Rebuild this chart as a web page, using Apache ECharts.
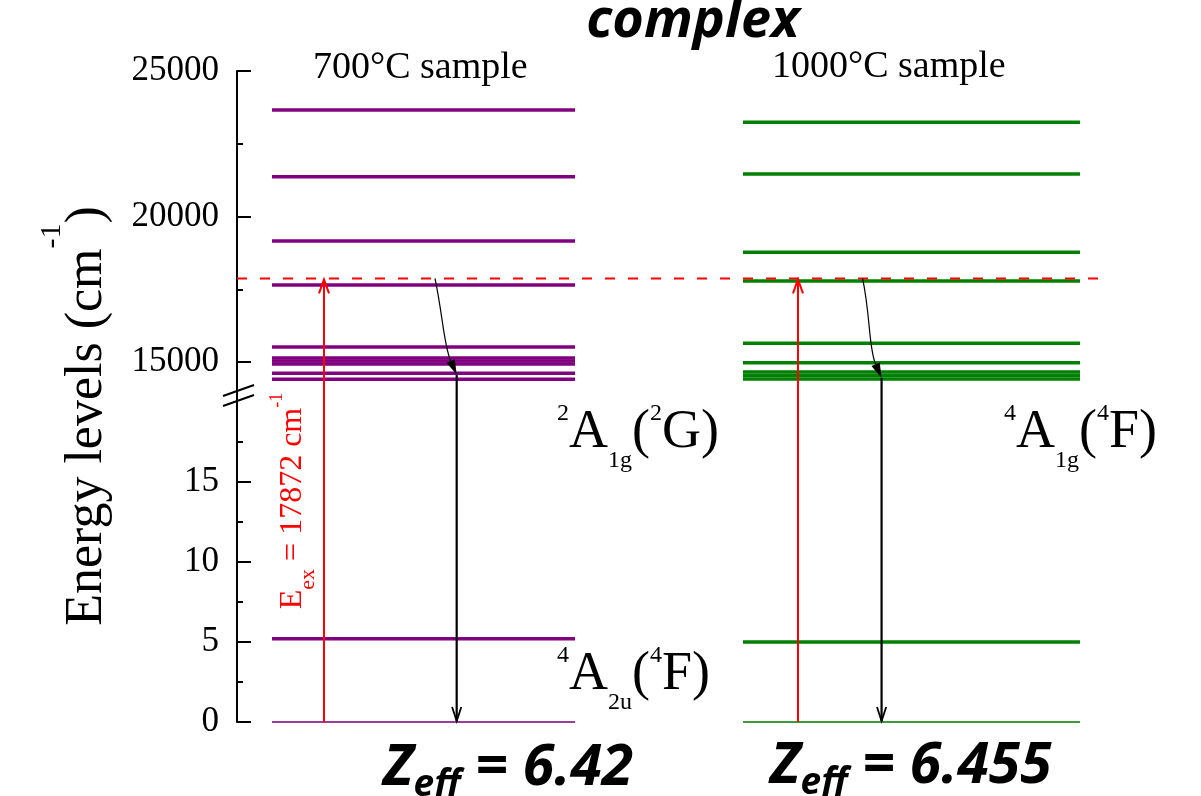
<!DOCTYPE html>
<html>
<head>
<meta charset="utf-8">
<script src="https://cdn.jsdelivr.net/npm/echarts@6/dist/echarts.min.js"></script>
<style>html,body{margin:0;padding:0;background:#fff}#c{width:1201px;height:796px}</style>
</head>
<body>
<div id="c"></div>
<script>
// ---------------- data ----------------
const samples = ['700°C sample', '1000°C sample'];
const upperLevels700 = [23660, 21370, 19160, 17650, 15520, 15140, 15035, 14930, 14610, 14405];
const upperLevels1000 = [23240, 21460, 18770, 17785, 15645, 14975, 14655, 14540, 14415];
const lowerLevels700 = [5.2, 0];
const lowerLevels1000 = [5.0, 0];
const excitationEnergy = 17872;
const relaxationEnd = [14560, 14450];
const zeffValues = ['6.42', '6.455'];
const upperMajorTicks = [15000, 20000, 25000];
const upperMinorTicks = [17500, 22500];
const lowerMajorTicks = [0, 5, 10, 15];
const lowerMinorTicks = [2.5, 7.5, 12.5, 17.5];

// ---------------- layout / style ----------------
const SERIF = 'Liberation Serif';
const SANS = 'Open Sans';
const COLORS = ['#800080', '#008000'];
const GROUND_COLORS = ['#9a3d9a', '#3d9a3d'];
const LAY = {
  left: 237, right: 97,
  upper: { top: 71, height: 321, min: 13970, max: 25000 },
  lower: { top: 392, height: 330, min: 0, max: 20.625 },
  xMin: -0.3822, xMax: 1.3945,
  halfWidth: [0.3105, 0.3453],
  redDx: [-0.2039, -0.2326],
  blackDx: [0.068, -0.0613],
  curveStartPx: [-21.7, -19]
};

const upperData = [];
upperLevels700.forEach(v => upperData.push([0, v]));
upperLevels1000.forEach(v => upperData.push([1, v]));
const lowerData = [];
lowerLevels700.forEach(v => lowerData.push([0, v]));
lowerLevels1000.forEach(v => lowerData.push([1, v]));

function renderLevel(params, api) {
  const s = api.value(0), v = api.value(1);
  const c = api.coord([s, v]);
  const hw = api.size([LAY.halfWidth[s], 0])[0];
  const ground = v === 0;
  return {
    type: 'line',
    shape: { x1: c[0] - hw, y1: c[1], x2: c[0] + hw, y2: c[1] },
    style: { stroke: ground ? GROUND_COLORS[s] : COLORS[s], lineWidth: ground ? 2 : 3.5 }
  };
}

function renderDashed(params, api) {
  const c = api.coord([0, api.value(1)]);
  const cs = params.coordSys;
  return {
    type: 'line',
    shape: { x1: cs.x, y1: c[1], x2: cs.x + cs.width, y2: c[1] },
    style: { stroke: '#ff0000', lineWidth: 2, lineDash: [10, 13] }
  };
}

function renderExcUpper(params, api) {
  const s = api.value(0);
  const t = api.coord([s + LAY.redDx[s], api.value(1)]);
  const cs = params.coordSys;
  return {
    type: 'group',
    children: [
      { type: 'line', shape: { x1: t[0], y1: cs.y + cs.height, x2: t[0], y2: t[1] + 1 },
        style: { stroke: '#ff0000', lineWidth: 2 } },
      { type: 'polyline', shape: { points: [[t[0] - 5, t[1] + 15], [t[0], t[1] + 1], [t[0] + 5, t[1] + 15]] },
        style: { stroke: '#ff0000', lineWidth: 2, fill: null } }
    ]
  };
}

function renderExcLower(params, api) {
  const s = api.value(0);
  const b = api.coord([s + LAY.redDx[s], api.value(1)]);
  const cs = params.coordSys;
  return {
    type: 'line', shape: { x1: b[0], y1: cs.y, x2: b[0], y2: b[1] },
    style: { stroke: '#ff0000', lineWidth: 2 }
  };
}

function renderRelaxUpper(params, api) {
  const s = api.value(0);
  const x = s + LAY.blackDx[s];
  const tip = api.coord([x, api.value(1)]);
  const start = api.coord([x, excitationEnergy]);
  start[0] += LAY.curveStartPx[s];
  const cp1 = [start[0] + 8, start[1] + 38];
  const cp2 = [tip[0] - 13, tip[1] - 30];
  const ang = Math.atan2(tip[1] - cp2[1], tip[0] - cp2[0]);
  const len = 15, hw = 4.5;
  const bx = tip[0] - len * Math.cos(ang), by = tip[1] - len * Math.sin(ang);
  const px = -Math.sin(ang) * hw, py = Math.cos(ang) * hw;
  const cs = params.coordSys;
  return {
    type: 'group',
    children: [
      { type: 'bezierCurve',
        shape: { x1: start[0], y1: start[1], cpx1: cp1[0], cpy1: cp1[1], cpx2: cp2[0], cpy2: cp2[1], x2: bx, y2: by },
        style: { stroke: '#000', lineWidth: 1.2, fill: null } },
      { type: 'polygon', shape: { points: [[tip[0], tip[1]], [bx + px, by + py], [bx - px, by - py]] },
        style: { fill: '#000' } },
      { type: 'line', shape: { x1: tip[0], y1: tip[1], x2: tip[0], y2: cs.y + cs.height },
        style: { stroke: '#000', lineWidth: 2.2 } }
    ]
  };
}

function renderRelaxLower(params, api) {
  const s = api.value(0);
  const b = api.coord([s + LAY.blackDx[s], api.value(1)]);
  const cs = params.coordSys;
  return {
    type: 'group',
    children: [
      { type: 'line', shape: { x1: b[0], y1: cs.y, x2: b[0], y2: b[1] - 1 },
        style: { stroke: '#000', lineWidth: 2.2 } },
      { type: 'polyline', shape: { points: [[b[0] - 4.6, b[1] - 15], [b[0], b[1] - 1], [b[0] + 4.6, b[1] - 15]] },
        style: { stroke: '#000', lineWidth: 1.8, fill: null } }
    ]
  };
}

function mainAxis(grid, r, ticks) {
  return {
    gridIndex: grid, type: 'value', min: r.min, max: r.max, position: 'left',
    axisLine: { show: true, onZero: false, lineStyle: { color: '#000', width: 2 } },
    axisTick: { show: true, inside: true, length: 14, lineStyle: { color: '#000', width: 2 }, customValues: ticks },
    axisLabel: { show: true, customValues: ticks, margin: 18, fontSize: 35, fontFamily: SERIF, color: '#000',
      formatter: v => String(v) },
    splitLine: { show: false }
  };
}
function minorAxis(grid, r, ticks) {
  return {
    gridIndex: grid, type: 'value', min: r.min, max: r.max, position: 'left',
    axisLine: { show: false, onZero: false },
    axisTick: { show: true, inside: true, length: 6, lineStyle: { color: '#000', width: 2 }, customValues: ticks },
    axisLabel: { show: false },
    splitLine: { show: false }
  };
}

// main baseline sits ~58.5 px below the top of the text block
function serifRich(main, sup, sub) {
  return {
    m: { fontSize: main, fontFamily: SERIF, fill: '#000', lineHeight: 84, verticalAlign: 'middle' },
    sup: { fontSize: sup, fontFamily: SERIF, fill: '#000', height: 46, verticalAlign: 'top' },
    sub: { fontSize: sub, fontFamily: SERIF, fill: '#000', height: 28, verticalAlign: 'bottom' }
  };
}
const zeffRich = {
  m: { fontSize: 57, fontFamily: SANS, fontWeight: 'bold', fontStyle: 'italic', fill: '#000', lineHeight: 80, verticalAlign: 'middle' },
  sub: { fontSize: 37, fontFamily: SANS, fontWeight: 'bold', fontStyle: 'italic', fill: '#000', height: 48, verticalAlign: 'bottom' }
};

const graphics = [
  { type: 'text', x: 693, y: -8, style: { text: '{m|complex}', align: 'center', verticalAlign: 'top',
      rich: { m: { fontSize: 54, fontFamily: SANS, fontWeight: 'bold', fontStyle: 'italic', fill: '#000', lineHeight: 60, verticalAlign: 'middle' } } } },
  { type: 'text', x: 313, y: 48, style: { text: '{m|' + samples[0] + '}', align: 'left', verticalAlign: 'top',
      rich: { m: { fontSize: 38, fontFamily: SERIF, fill: '#000', lineHeight: 40, verticalAlign: 'middle' } } } },
  { type: 'text', x: 772, y: 47, style: { text: '{m|' + samples[1] + '}', align: 'left', verticalAlign: 'top',
      rich: { m: { fontSize: 38, fontFamily: SERIF, fill: '#000', lineHeight: 40, verticalAlign: 'middle' } } } },
  { type: 'text', x: 557, y: 391, style: { text: '{sup|2}{m|A}{sub|1g}{m|(}{sup|2}{m|G}{m|)}', align: 'left', verticalAlign: 'top', rich: serifRich(54, 24, 24) } },
  { type: 'text', x: 557, y: 633, style: { text: '{sup|4}{m|A}{sub|2u}{m|(}{sup|4}{m|F}{m|)}', align: 'left', verticalAlign: 'top', rich: serifRich(54, 24, 24) } },
  { type: 'text', x: 1004, y: 391, style: { text: '{sup|4}{m|A}{sub|1g}{m|(}{sup|4}{m|F}{m|)}', align: 'left', verticalAlign: 'top', rich: serifRich(54, 24, 24) } },
  { type: 'text', x: 383, y: 729, style: { text: '{m|Z}{sub|eff}{m| = ' + zeffValues[0] + '}', align: 'left', verticalAlign: 'top', rich: zeffRich } },
  { type: 'text', x: 770, y: 727, style: { text: '{m|Z}{sub|eff}{m| = ' + zeffValues[1] + '}', align: 'left', verticalAlign: 'top', rich: zeffRich } },
  { type: 'text', x: 87, y: 416, rotation: Math.PI / 2, style: { text: '{m|Energy levels (cm}{sup|-1}{m|)}', align: 'center', verticalAlign: 'middle',
      rich: {
        m: { fontSize: 52, fontFamily: SERIF, fill: '#000', lineHeight: 100, verticalAlign: 'middle' },
        sup: { fontSize: 30, fontFamily: SERIF, fill: '#000', verticalAlign: 'top' }
      } } },
  { type: 'text', x: 293, y: 501, rotation: Math.PI / 2, style: { text: '{m|E}{sub|ex}{m| = ' + excitationEnergy + ' cm}{sup|-1}', align: 'center', verticalAlign: 'middle',
      rich: {
        m: { fontSize: 32, fontFamily: SERIF, fill: '#ff0000', lineHeight: 60, verticalAlign: 'middle' },
        sub: { fontSize: 22, fontFamily: SERIF, fill: '#ff0000', height: 30, verticalAlign: 'bottom' },
        sup: { fontSize: 18, fontFamily: SERIF, fill: '#ff0000', height: 28, verticalAlign: 'top' }
      } } },
  { type: 'line', shape: { x1: 223, y1: 396, x2: 254, y2: 385 }, style: { stroke: '#000', lineWidth: 2 } },
  { type: 'line', shape: { x1: 223, y1: 406, x2: 254, y2: 395 }, style: { stroke: '#000', lineWidth: 2 } }
];

const chart = echarts.init(document.getElementById('c'), null, { renderer: 'canvas', width: 1201, height: 796 });
chart.setOption({
  animation: false,
  backgroundColor: '#fff',
  grid: [
    { left: LAY.left, right: LAY.right, top: LAY.upper.top, height: LAY.upper.height },
    { left: LAY.left, right: LAY.right, top: LAY.lower.top, height: LAY.lower.height }
  ],
  xAxis: [
    { gridIndex: 0, type: 'value', min: LAY.xMin, max: LAY.xMax, show: false, axisLine: { onZero: false } },
    { gridIndex: 1, type: 'value', min: LAY.xMin, max: LAY.xMax, show: false, axisLine: { onZero: false } }
  ],
  yAxis: [
    mainAxis(0, LAY.upper, upperMajorTicks),
    minorAxis(0, LAY.upper, upperMinorTicks),
    mainAxis(1, LAY.lower, lowerMajorTicks),
    minorAxis(1, LAY.lower, lowerMinorTicks)
  ],
  series: [
    { type: 'custom', name: 'levels-upper', xAxisIndex: 0, yAxisIndex: 0, renderItem: renderLevel, data: upperData, silent: true },
    { type: 'custom', name: 'levels-lower', xAxisIndex: 1, yAxisIndex: 2, renderItem: renderLevel, data: lowerData, silent: true },
    { type: 'custom', name: 'excitation-line', xAxisIndex: 0, yAxisIndex: 0, renderItem: renderDashed, data: [[0, excitationEnergy]], silent: true, z: 3 },
    { type: 'custom', name: 'excitation-up', xAxisIndex: 0, yAxisIndex: 0, renderItem: renderExcUpper, data: [[0, excitationEnergy], [1, excitationEnergy]], silent: true, z: 4 },
    { type: 'custom', name: 'excitation-low', xAxisIndex: 1, yAxisIndex: 2, renderItem: renderExcLower, data: [[0, 0], [1, 0]], silent: true, z: 4 },
    { type: 'custom', name: 'relax-up', xAxisIndex: 0, yAxisIndex: 0, renderItem: renderRelaxUpper, data: [[0, relaxationEnd[0]], [1, relaxationEnd[1]]], silent: true, z: 4 },
    { type: 'custom', name: 'relax-low', xAxisIndex: 1, yAxisIndex: 2, renderItem: renderRelaxLower, data: [[0, 0], [1, 0]], silent: true, z: 4 }
  ],
  graphic: graphics
});
</script>
</body>
</html>
